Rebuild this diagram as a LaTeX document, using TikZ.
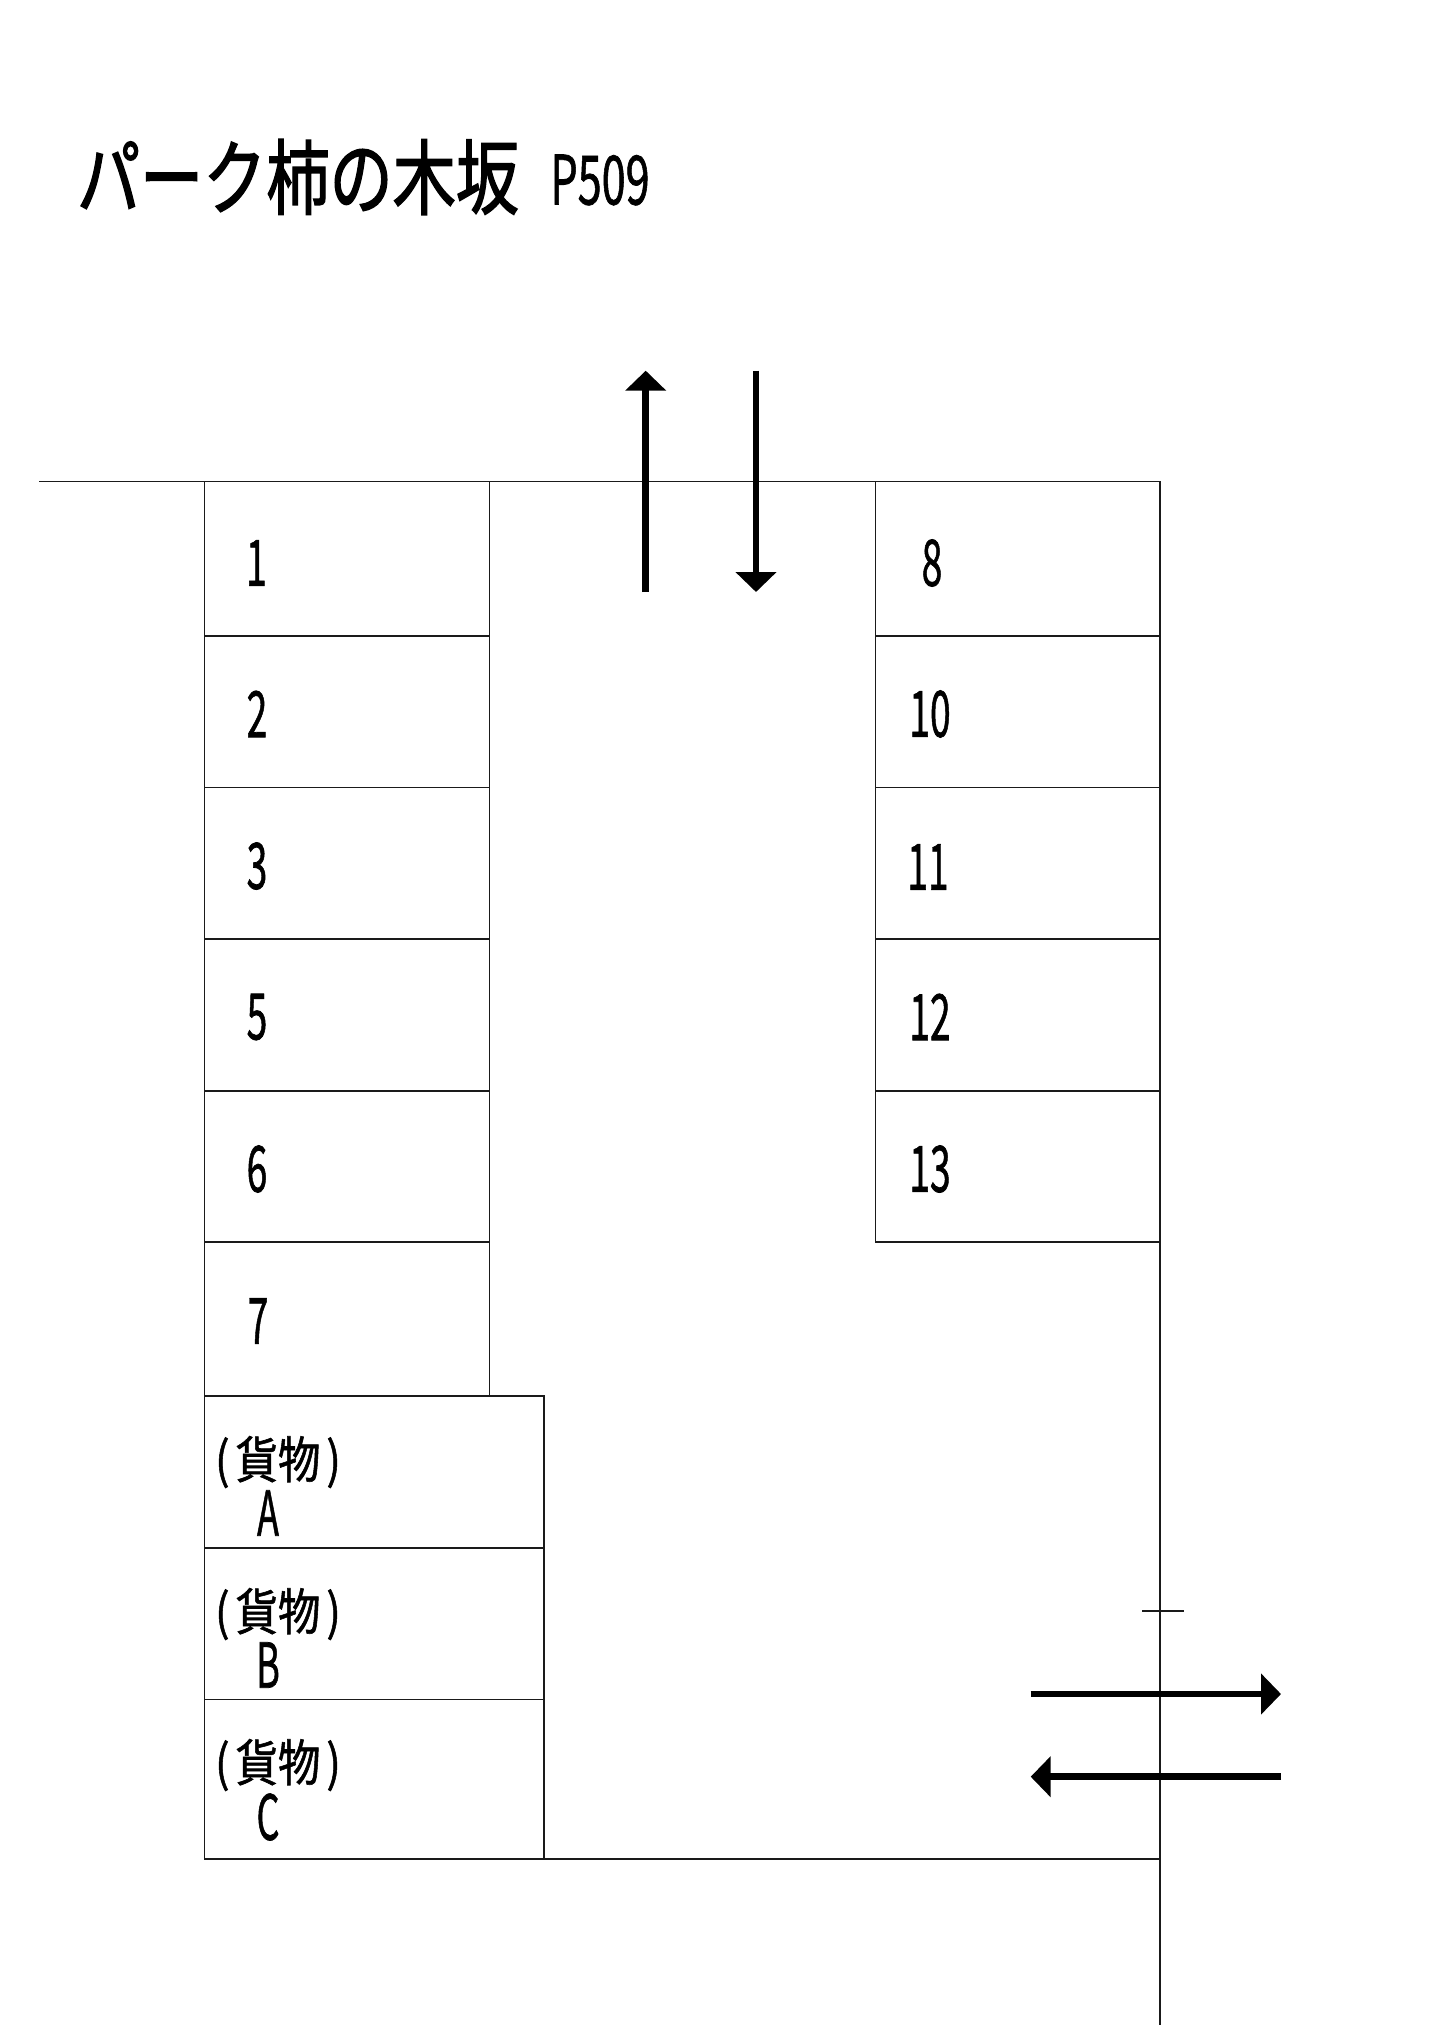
\documentclass[tikz,border=0pt]{standalone}
\usepackage{fontspec}
\usepackage{xcolor}
\usetikzlibrary{arrows.meta}
\newfontfamily\jpfont[FakeBold=1.2]{Noto Sans CJK JP}
\newfontfamily\jpheavy[FakeBold=2.0]{Noto Sans CJK JP}
\definecolor{ink}{HTML}{1A1A1A}
\tikzset{
  stall/.style={draw=ink, line width=1.3pt},
  road/.style={draw=ink, line width=1.3pt},
  flow/.style={draw=black, line width=6.5pt, -{Triangle[length=20pt,width=40pt]}},
  titlelab/.style={inner sep=0pt, xscale=0.77, transform shape, font=\jpheavy\fontsize{82}{82}\selectfont},
  codelab/.style={inner sep=0pt, xscale=0.635, transform shape, font=\jpfont\fontsize{68}{68}\selectfont},
  numlab/.style={inner sep=0pt, xscale=0.58, transform shape, font=\jpfont\fontsize{64}{64}\selectfont},
  cargolab/.style={inner sep=0pt, xscale=0.85, transform shape, font=\jpfont\fontsize{50}{50}\selectfont},
  letterlab/.style={inner sep=0pt, xscale=0.58, transform shape, font=\jpfont\fontsize{62}{62}\selectfont}
}
\newcommand{\cargotext}{(\hspace{7pt}貨物\hspace{7pt})}

\begin{document}
\begin{tikzpicture}[x=1pt,y=-1pt]
  \useasboundingbox (0,0) rectangle (1433,2025);
  \fill[white] (0,0) rectangle (1433,2025);

  % title
  \node[titlelab, anchor=center] (title) at (298,177) {パーク柿の木坂};
  \node[codelab, anchor=center] (code) at (600,180) {P509};

  % road edges
  \draw[road] (39,481.7) -- (1160,481.7);
  \draw[road] (1160,481.7) -- (1160,2025);
  \draw[road] (204.7,1859) -- (1160,1859);
  \draw[road] (1142,1611) -- (1184,1611);

  % left column
  \draw[stall] (204.7,481.7) rectangle (489.5,636);
  \draw[stall] (204.7,636) rectangle (489.5,787.5);
  \draw[stall] (204.7,787.5) rectangle (489.5,939);
  \draw[stall] (204.7,939) rectangle (489.5,1091);
  \draw[stall] (204.7,1091) rectangle (489.5,1242);
  \draw[stall] (204.7,1242) rectangle (489.5,1396);
  \draw[stall] (204.7,1396) rectangle (544,1548);
  \draw[stall] (204.7,1548) rectangle (544,1699.3);
  \draw[stall] (204.7,1699.3) rectangle (544,1859);

  % right column
  \draw[stall] (875.5,481.7) rectangle (1160,636);
  \draw[stall] (875.5,636) rectangle (1160,787.5);
  \draw[stall] (875.5,787.5) rectangle (1160,939);
  \draw[stall] (875.5,939) rectangle (1160,1091);
  \draw[stall] (875.5,1091) rectangle (1160,1242);

  \node[numlab] (n1) at (256.5,563) {1};
  \node[numlab] (n2) at (257,714) {2};
  \node[numlab] (n3) at (257,866) {3};
  \node[numlab] (n5) at (257,1017) {5};
  \node[numlab] (n6) at (257,1169) {6};
  \node[numlab] (n7) at (258,1321) {7};
  \node[numlab] (n8) at (932,563) {8};
  \node[numlab] (n10) at (930,714) {10};
  \node[numlab] (n11) at (928,867) {11};
  \node[numlab] (n12) at (930,1017) {12};
  \node[numlab] (n13) at (930,1169) {13};

  % cargo stalls
  \node[cargolab] (cargoA) at (278,1462) {\cargotext};
  \node[letterlab] (letterA) at (268,1513) {A};
  \node[cargolab] (cargoB) at (278,1614) {\cargotext};
  \node[letterlab] (letterB) at (268,1665) {B};
  \node[cargolab] (cargoC) at (278,1765) {\cargotext};
  \node[letterlab] (letterC) at (268,1817) {C};

  % traffic directions
  \draw[flow] (645.7,592) -- (645.7,370.7);
  \draw[flow] (756,370.7) -- (756,592);
  \draw[flow] (1030.7,1694) -- (1281,1694);
  \draw[flow] (1281,1776.7) -- (1030.7,1776.7);
\end{tikzpicture}
\end{document}
